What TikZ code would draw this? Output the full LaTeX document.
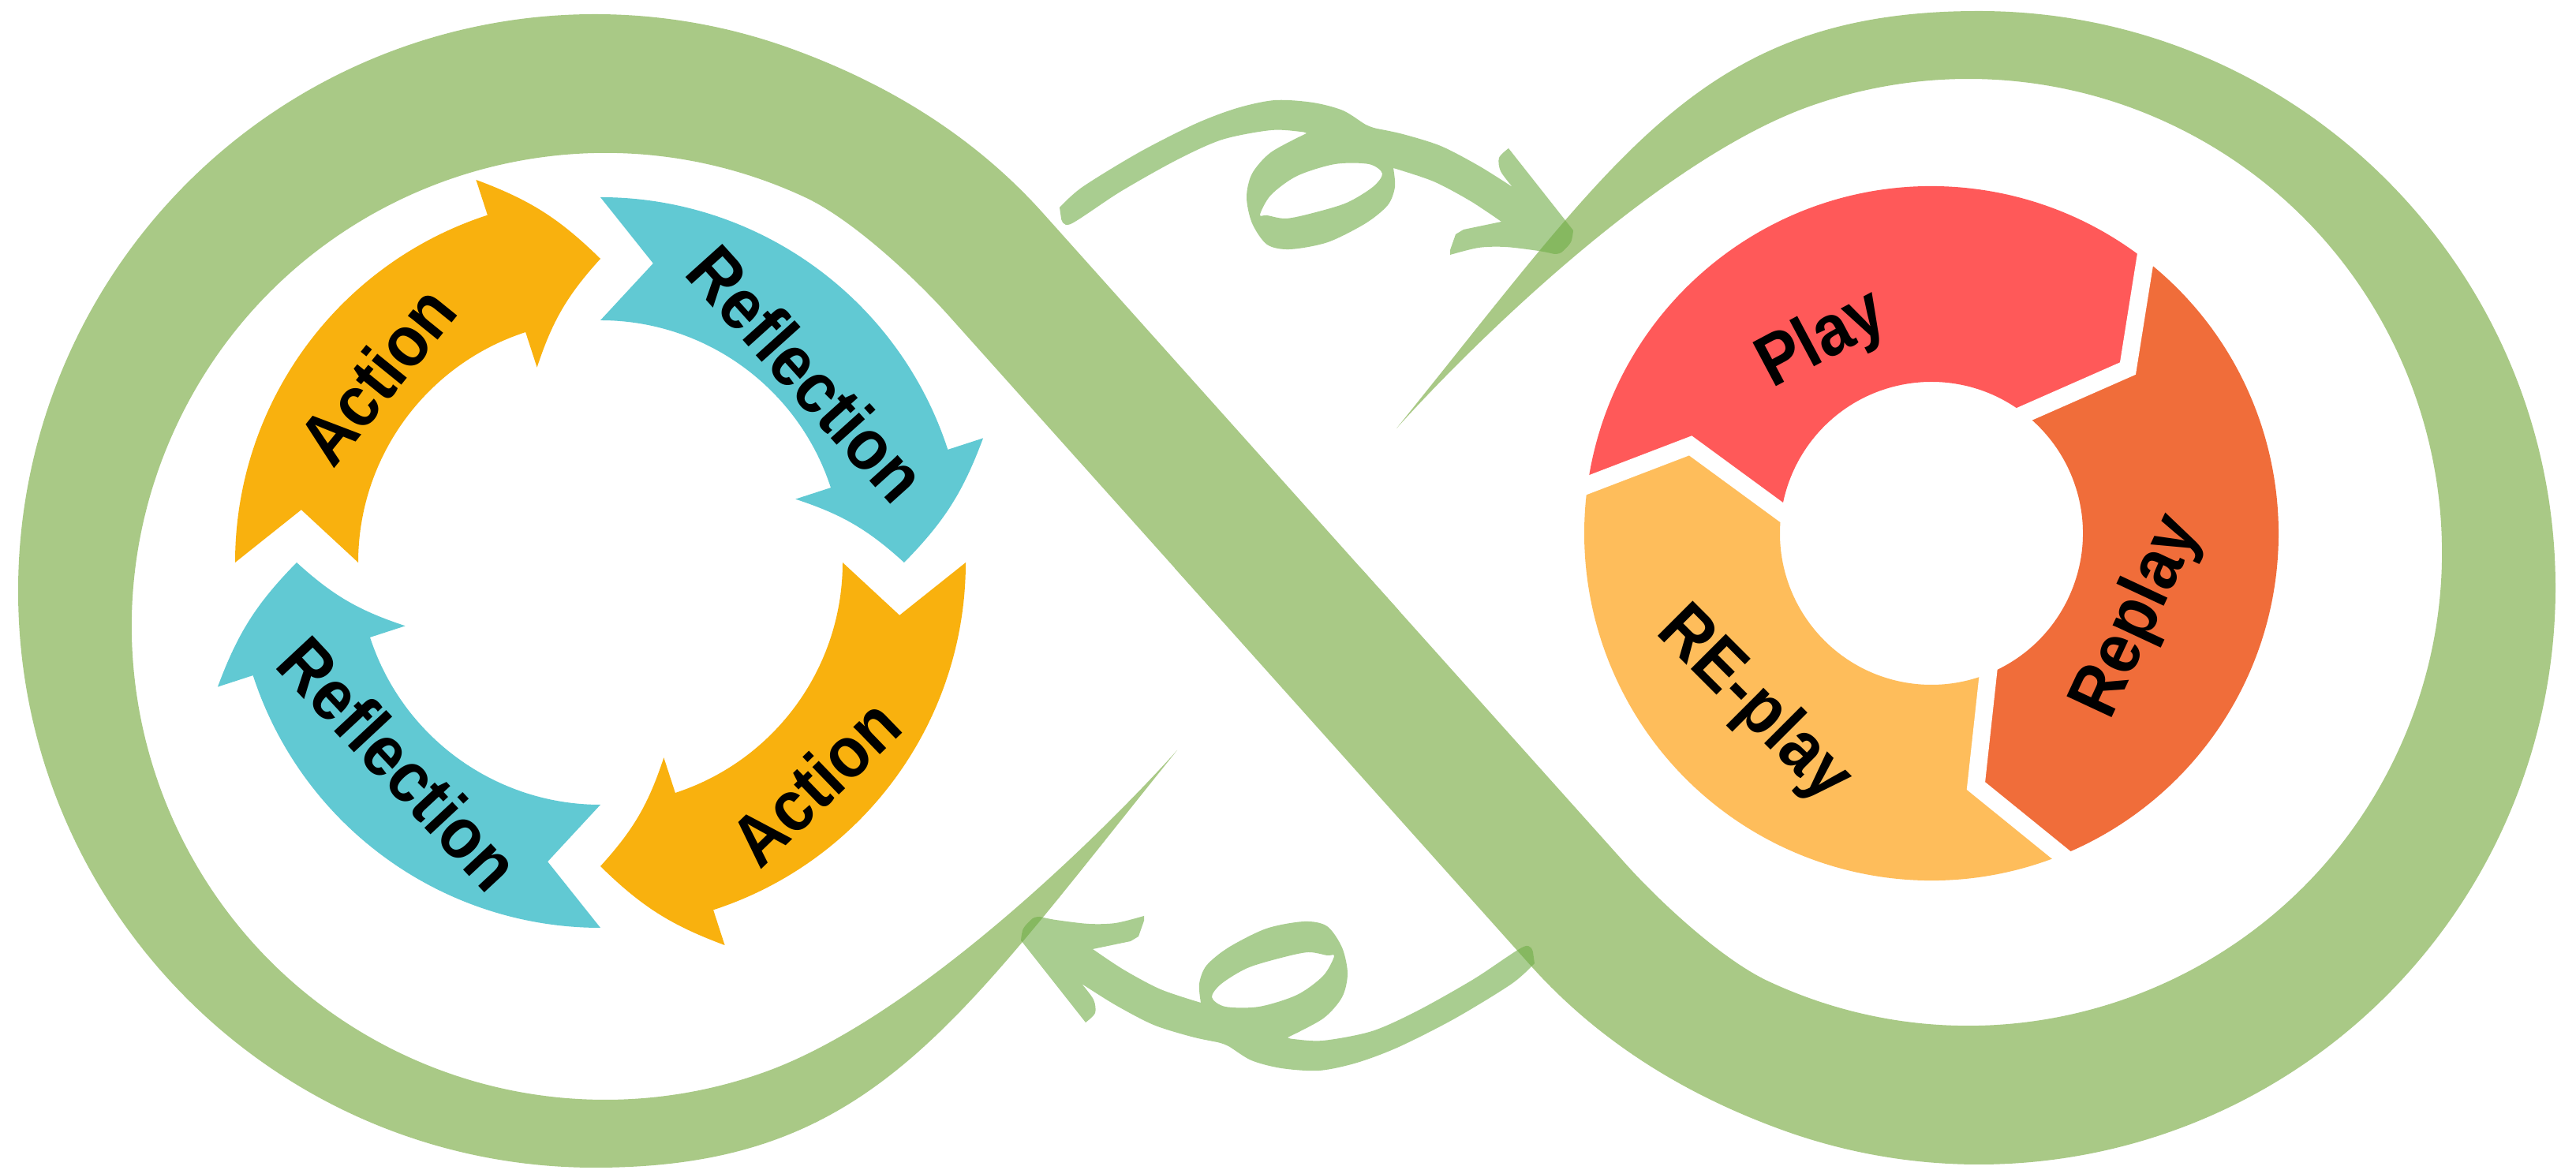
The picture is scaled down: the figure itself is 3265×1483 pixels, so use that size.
\documentclass[tikz,border=0pt]{standalone}
\usepackage{fontspec}
\newfontfamily\tagfont[FakeStretch=0.9]{Liberation Sans}
\definecolor{bandgreen}{RGB}{169,201,134}
\definecolor{leafgreen}{RGB}{112,173,71}
\definecolor{actorange}{RGB}{249,177,14}
\definecolor{reflcyan}{RGB}{97,201,211}
\definecolor{playred}{RGB}{255,89,89}
\definecolor{replayorange}{RGB}{240,109,58}
\definecolor{reyellow}{RGB}{254,189,91}

% one half of the ribbon (right loop), the other half is the same turned round
\newcommand{\halfband}{(1724.7,720) -- (2060,1094.4)
  .. controls (2103.4,1142.8) and (2182.5,1216.3) .. (2241.4,1243.8)
  arc[start angle=115, end angle=-110, radius=600]
  .. controls (2102,205) and (1870,432) .. (1770,543)
  .. controls (2053,193) and (2158,14) .. (2508,14)
  arc[start angle=-90, end angle=110, radius=731]
  .. controls (2135.8,1387.5) and (2026.8,1320.7) .. (1940,1223.8)
  -- (1488.9,720) -- cycle}

% brush arrow over the crossing
\newcommand{\leafarrow}{plot[smooth] coordinates {(1343,263) (1372,237) (1444,193) (1515,157) (1568,137) (1616,127) (1664,130) (1702,140) (1731,158) (1745,163)}
  -- plot[smooth] coordinates {(1745,163) (1778,170) (1826,185) (1874,210) (1917,237)}
  -- plot[smooth] coordinates {(1917,237) (1902,217) (1900,200) (1912,188)}
  -- plot[smooth] coordinates {(1994,292) (1991,307) (1979,320) (1970,322)}
  -- plot[smooth] coordinates {(1970,322) (1950,318) (1908,313) (1874,314) (1838,323)}
  -- (1838,317) -- (1845,297) -- (1855,291)
  -- plot[smooth] coordinates {(1903,281) (1864,255) (1817,230) (1766,213)}
  -- plot[smooth] coordinates {(1766,213) (1768,237) (1759,260) (1731,283) (1683,307) (1635,316) (1606,310) (1587,283) (1580,250) (1587,220) (1611,193) (1656,169)}
  -- plot[smooth] coordinates {(1656,169) (1649,167) (1611,165) (1549,177) (1491,203) (1420,243) (1357,284) (1345,277)}
  -- cycle
  plot[smooth cycle] coordinates {(1597,272) (1611,247) (1644,223) (1692,208) (1735,208) (1752,220) (1740,237) (1707,257) (1664,270) (1630,277) (1606,273)}}

% curved arrow of the left cycle, #1 = angle of its tail
\newcommand{\cyclearrow}[2]{\fill[#2] (#1:463) arc[start angle=#1, end angle=#1-72, radius=463]
  -- (#1-72:510) to[bend left=12] (#1-90:385) to[bend right=12] (#1-72:260)
  -- (#1-72:307) arc[start angle=#1-72, end angle=#1, radius=307] -- (#1-10:385) -- cycle;}

% piece of the right cycle, from angle #1 to angle #2
\newcommand{\cyclepiece}[3]{\fill[#3] (#1:440) arc[start angle=#1, end angle=#2, radius=440]
  -- (#2-12:325) -- (#2:192) arc[start angle=#2, end angle=#1, radius=192] -- (#1-12:325) -- cycle;}

\tikzset{
  band/.style={fill=bandgreen},
  doodle/.style={fill=leafgreen, fill opacity=0.6, even odd rule},
  gap/.style={white, line width=6.3pt, shorten <=-4pt, shorten >=-4pt},
  tag/.style={font=\tagfont\bfseries\fontsize{26}{30}\selectfont, text=black, inner sep=0pt}
}

\begin{document}
\begin{tikzpicture}[x=0.01cm, y=-0.01cm]
\fill[white] (0,0) rectangle (3265,1483);
\useasboundingbox (0,0) rectangle (3265,1483);

% infinity ribbon
\fill[band] \halfband;
\begin{scope}[rotate around={180:(1631,747)}]
\fill[band] \halfband;
\end{scope}

% the two brush arrows
\fill[doodle] \leafarrow;
\begin{scope}[rotate around={180:(1644,742)}]
\fill[doodle] \leafarrow;
\end{scope}

% left cycle
\begin{scope}[shift={(761,713)}, y=0.01cm]
\cyclearrow{180}{actorange}
\cyclearrow{90}{reflcyan}
\cyclearrow{0}{actorange}
\cyclearrow{-90}{reflcyan}
\node[tag, rotate=51] (act1) at (140:370) {Action};
\node[tag, rotate=-48] (refl1) at (42.4:355) {Reflection};
\node[tag, rotate=44] (act2) at (-45.6:389) {Action};
\node[tag, rotate=-47] (refl2) at (-135:360) {Reflection};
\end{scope}

% right cycle
\begin{scope}[shift={(2448,676)}, y=0.01cm]
\cyclepiece{172}{52}{playred}
\cyclepiece{52}{-68}{replayorange}
\cyclepiece{-68}{-188}{reyellow}
\draw[gap] (52:440) -- (40:325) -- (52:192);
\draw[gap] (-68:440) -- (-80:325) -- (-68:192);
\draw[gap] (172:440) -- (160:325) -- (172:192);
\node[tag, rotate=28] (play) at (119.5:280) {Play};
\node[tag, rotate=65] (replay) at (-22:283) {Replay};
\node[tag, rotate=-45] (replay2) at (-136:314) {RE-play};
\end{scope}
\end{tikzpicture}
\end{document}
